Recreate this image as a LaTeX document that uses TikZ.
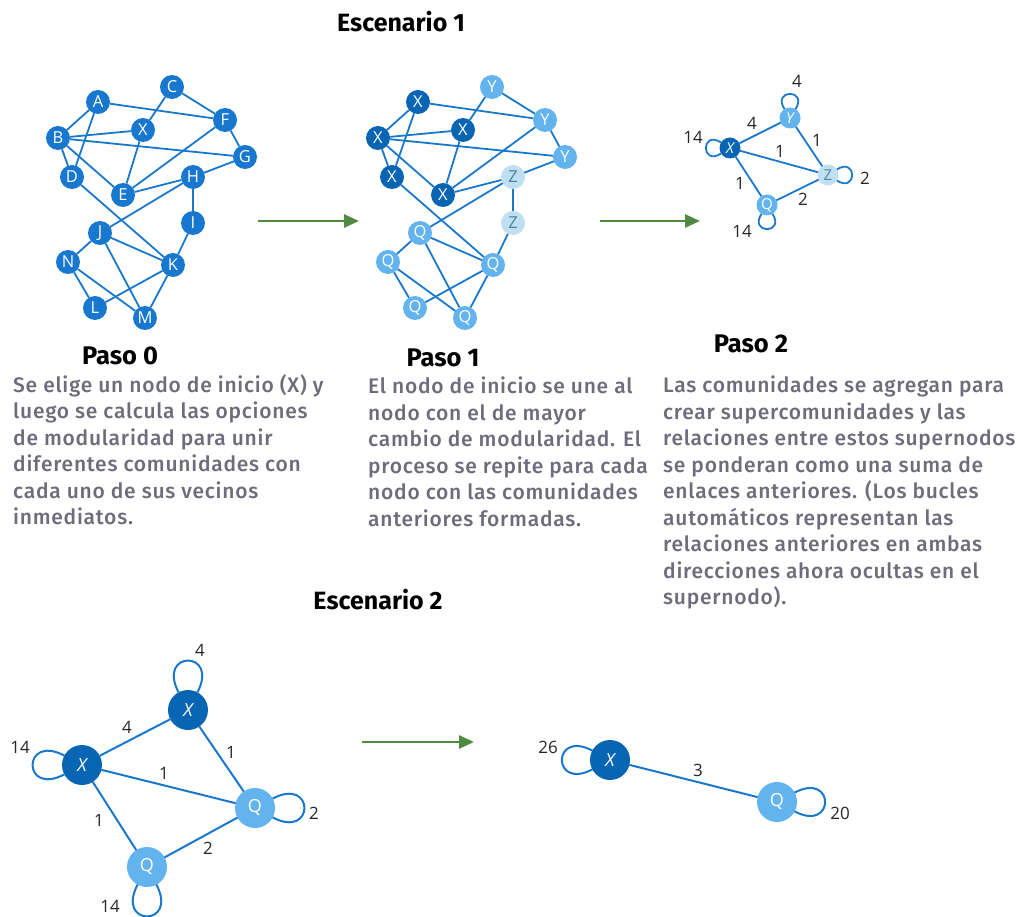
\documentclass[tikz,border=0pt]{standalone}
\usepackage{fontspec}
\setmainfont{Open Sans}
\newfontfamily\bodyf{Fira Sans}[UprightFont={* Medium}, LetterSpace=3.6]
\newfontfamily\headf{Fira Sans}[UprightFont={* Bold}]
\usetikzlibrary{arrows.meta}

\definecolor{nodemid}{HTML}{1877CF}
\definecolor{nodedark}{HTML}{0865B3}
\definecolor{nodelight}{HTML}{62B3EE}
\definecolor{nodepale}{HTML}{C0DFF4}
\definecolor{paletext}{HTML}{4C8797}
\definecolor{linkblue}{HTML}{1A78CC}
\definecolor{arrowgreen}{HTML}{4E8A40}
\definecolor{bodygrey}{HTML}{6E6B7B}
\definecolor{numgrey}{HTML}{262626}

\tikzset{
  vtx/.style={circle, inner sep=0pt, outer sep=0pt, text=white},
  small/.style={vtx, minimum size=24pt, font=\fontsize{16.5}{16.5}\selectfont},
  tiny/.style={vtx, minimum size=21pt, font=\fontsize{15}{15}\selectfont},
  big/.style={vtx, minimum size=40pt, font=\fontsize{18}{18}\selectfont},
  cmid/.style={fill=nodemid},
  cdark/.style={fill=nodedark},
  clight/.style={fill=nodelight},
  cpale/.style={fill=nodepale, text=paletext},
  link/.style={draw=linkblue, line width=1.8pt},
  biglink/.style={draw=linkblue, line width=2pt},
  num/.style={text=numgrey, font=\fontsize{17}{17}\selectfont, inner sep=0pt},
  flow/.style={draw=arrowgreen, line width=2.6pt, -{Triangle[length=15pt,width=13pt]}},
  headline/.style={font=\headf\fontsize{25}{25}\selectfont, text=black, inner sep=0pt},
  pasohd/.style={font=\headf\fontsize{25.5}{25.5}\selectfont, text=black, inner sep=0pt},
  body/.style={font=\bodyf\fontsize{21}{26.5}\selectfont, text=bodygrey, align=left, inner sep=0pt, anchor=north west},
}

\begin{document}
\begin{tikzpicture}[x=1pt, y=-1pt]
\useasboundingbox (0,0) rectangle (1021,917);

% ---------- Escenario 1, paso 0 ----------
\begin{scope}[every node/.append style={small, cmid}]
\node (a0) at (98,102) {A};
\node (c0) at (172,87) {C};
\node (x0) at (143,130) {X};
\node (f0) at (225,120) {F};
\node (b0) at (58,138) {B};
\node (g0) at (245,157) {G};
\node (d0) at (72,177) {D};
\node (e0) at (123,195) {E};
\node (h0) at (193,177) {H};
\node (i0) at (193,223) {I};
\node (j0) at (100,233) {J};
\node (n0) at (68,262) {N};
\node (k0) at (173,265) {K};
\node (l0) at (95,308) {L};
\node (m0) at (145,318) {M};
\end{scope}

% ---------- Escenario 1, paso 1 ----------
\begin{scope}[xshift=320pt, every node/.append style={small}]
\node[cdark] (a1) at (98,102) {X};
\node[clight] (c1) at (172,87) {Y};
\node[cdark] (x1) at (143,130) {X};
\node[clight] (f1) at (225,120) {Y};
\node[cdark] (b1) at (58,138) {X};
\node[clight] (g1) at (245,157) {Y};
\node[cdark] (d1) at (72,177) {X};
\node[cdark] (e1) at (123,195) {X};
\node[cpale] (h1) at (193,177) {Z};
\node[cpale] (i1) at (193,223) {Z};
\node[clight] (j1) at (100,233) {Q};
\node[clight] (n1) at (68,262) {Q};
\node[clight] (k1) at (173,265) {Q};
\node[clight] (l1) at (95,308) {Q};
\node[clight] (m1) at (145,318) {Q};
\end{scope}

\foreach \s in {0,1}{
  \foreach \u/\v in {a/b,a/d,a/f,c/x,c/f,b/x,b/g,b/d,b/e,d/k,x/e,e/f,e/h,h/g,f/g,
                     h/i,h/j,i/k,j/n,j/k,j/m,n/l,n/m,l/k,k/m}
    \draw[link] (\u\s) -- (\v\s);
}

% ---------- Escenario 1, paso 2 ----------
\node[tiny, cdark] (x2) at (730,148) {\itshape X};
\node[tiny, clight] (y2) at (790,118) {\itshape Y};
\node[tiny, cpale] (z2) at (828,175) {Z};
\node[tiny, clight] (q2) at (767,205) {Q};
\draw[link] (x2) -- (y2);
\draw[link] (x2) -- (z2);
\draw[link] (x2) -- (q2);
\draw[link] (y2) -- (z2);
\draw[link] (q2) -- (z2);
\draw[link] (y2) to[out=58, in=122, distance=24pt] (y2);
\draw[link] (x2) to[out=148, in=212, distance=24pt] (x2);
\draw[link] (z2) to[out=-32, in=32, distance=24pt] (z2);
\draw[link] (q2) to[out=-122, in=-58, distance=24pt] (q2);
\node[num] (ly2) at (797,81) {4};
\node[num] (lx2) at (693,137) {14};
\node[num] (lz2) at (865,178) {2};
\node[num] (lq2) at (742,231) {14};
\node[num] (lxy2) at (752,123) {4};
\node[num] (lyz2) at (817,140) {1};
\node[num] (lxz2) at (780,151) {1};
\node[num] (lxq2) at (740,183) {1};
\node[num] (lqz2) at (803,199) {2};

% ---------- arrows between steps ----------
\coordinate (fa) at (258,221);
\coordinate (fb) at (359,221);
\coordinate (fc) at (600,221);
\coordinate (fd) at (700,221);
\coordinate (fe) at (362,742);
\coordinate (ff) at (474,742);
\draw[flow] (fa) -- (fb);
\draw[flow] (fc) -- (fd);
\draw[flow] (fe) -- (ff);

% ---------- headings and explanations ----------
\node[headline] (esc1) at (401,22) {Escenario 1};
\node[headline] (esc2) at (378,600) {Escenario 2};
\node[pasohd] (p0) at (120,356) {Paso 0};
\node[pasohd] (p1) at (443,358) {Paso 1};
\node[pasohd] (p2) at (751,344) {Paso 2};

\node[body] (t0) at (13,374) {Se elige un nodo de inicio (X) y\\
luego se calcula las opciones\\
de modularidad para unir\\
diferentes comunidades con\\
cada uno de sus vecinos\\
inmediatos.};

\node[body] (t1) at (368,377) {El nodo de inicio se une al\\
nodo con el de mayor\\
cambio de modularidad. El\\
proceso se repite para cada\\
nodo con las comunidades\\
anteriores formadas.};

\node[body] (t2) at (663,376) {Las comunidades se agregan para\\
crear supercomunidades y las\\
relaciones entre estos supernodos\\
se ponderan como una suma de\\
enlaces anteriores. (Los bucles\\
automáticos representan las\\
relaciones anteriores en ambas\\
direcciones ahora ocultas en el\\
supernodo).};

% ---------- Escenario 2, left ----------
\node[big, cdark] (sxa) at (188,710) {\itshape X};
\node[big, cdark] (sxb) at (82,765) {\itshape X};
\node[big, clight] (sqa) at (255,808) {Q};
\node[big, clight] (sqb) at (147,867) {Q};
\draw[biglink] (sxb) -- (sxa);
\draw[biglink] (sxa) -- (sqa);
\draw[biglink] (sxb) -- (sqa);
\draw[biglink] (sxb) -- (sqb);
\draw[biglink] (sqb) -- (sqa);
\draw[biglink] (sxa) to[out=62, in=118, distance=48pt] (sxa);
\draw[biglink] (sxb) to[out=152, in=208, distance=48pt] (sxb);
\draw[biglink] (sqa) to[out=-28, in=28, distance=48pt] (sqa);
\draw[biglink] (sqb) to[out=-118, in=-62, distance=48pt] (sqb);
\node[num] (lsxa) at (200,650) {4};
\node[num] (lsxb) at (20,747) {14};
\node[num] (lsqa) at (314,813) {2};
\node[num] (lsqb) at (110,906) {14};
\node[num] (lab) at (127,727) {4};
\node[num] (laq) at (231,752) {1};
\node[num] (lbq) at (164,773) {1};
\node[num] (lbb) at (99,820) {1};
\node[num] (lqq) at (208,848) {2};

% ---------- Escenario 2, right ----------
\node[big, cdark] (rx) at (610,760) {\itshape X};
\node[big, clight] (rq) at (777,802) {Q};
\draw[biglink] (rx) -- (rq);
\draw[biglink] (rx) to[out=152, in=208, distance=46pt] (rx);
\draw[biglink] (rq) to[out=-28, in=28, distance=46pt] (rq);
\node[num] (lrx) at (548,747) {26};
\node[num] (lrq) at (840,813) {20};
\node[num] (lrr) at (698,770) {3};
\end{tikzpicture}
\end{document}
